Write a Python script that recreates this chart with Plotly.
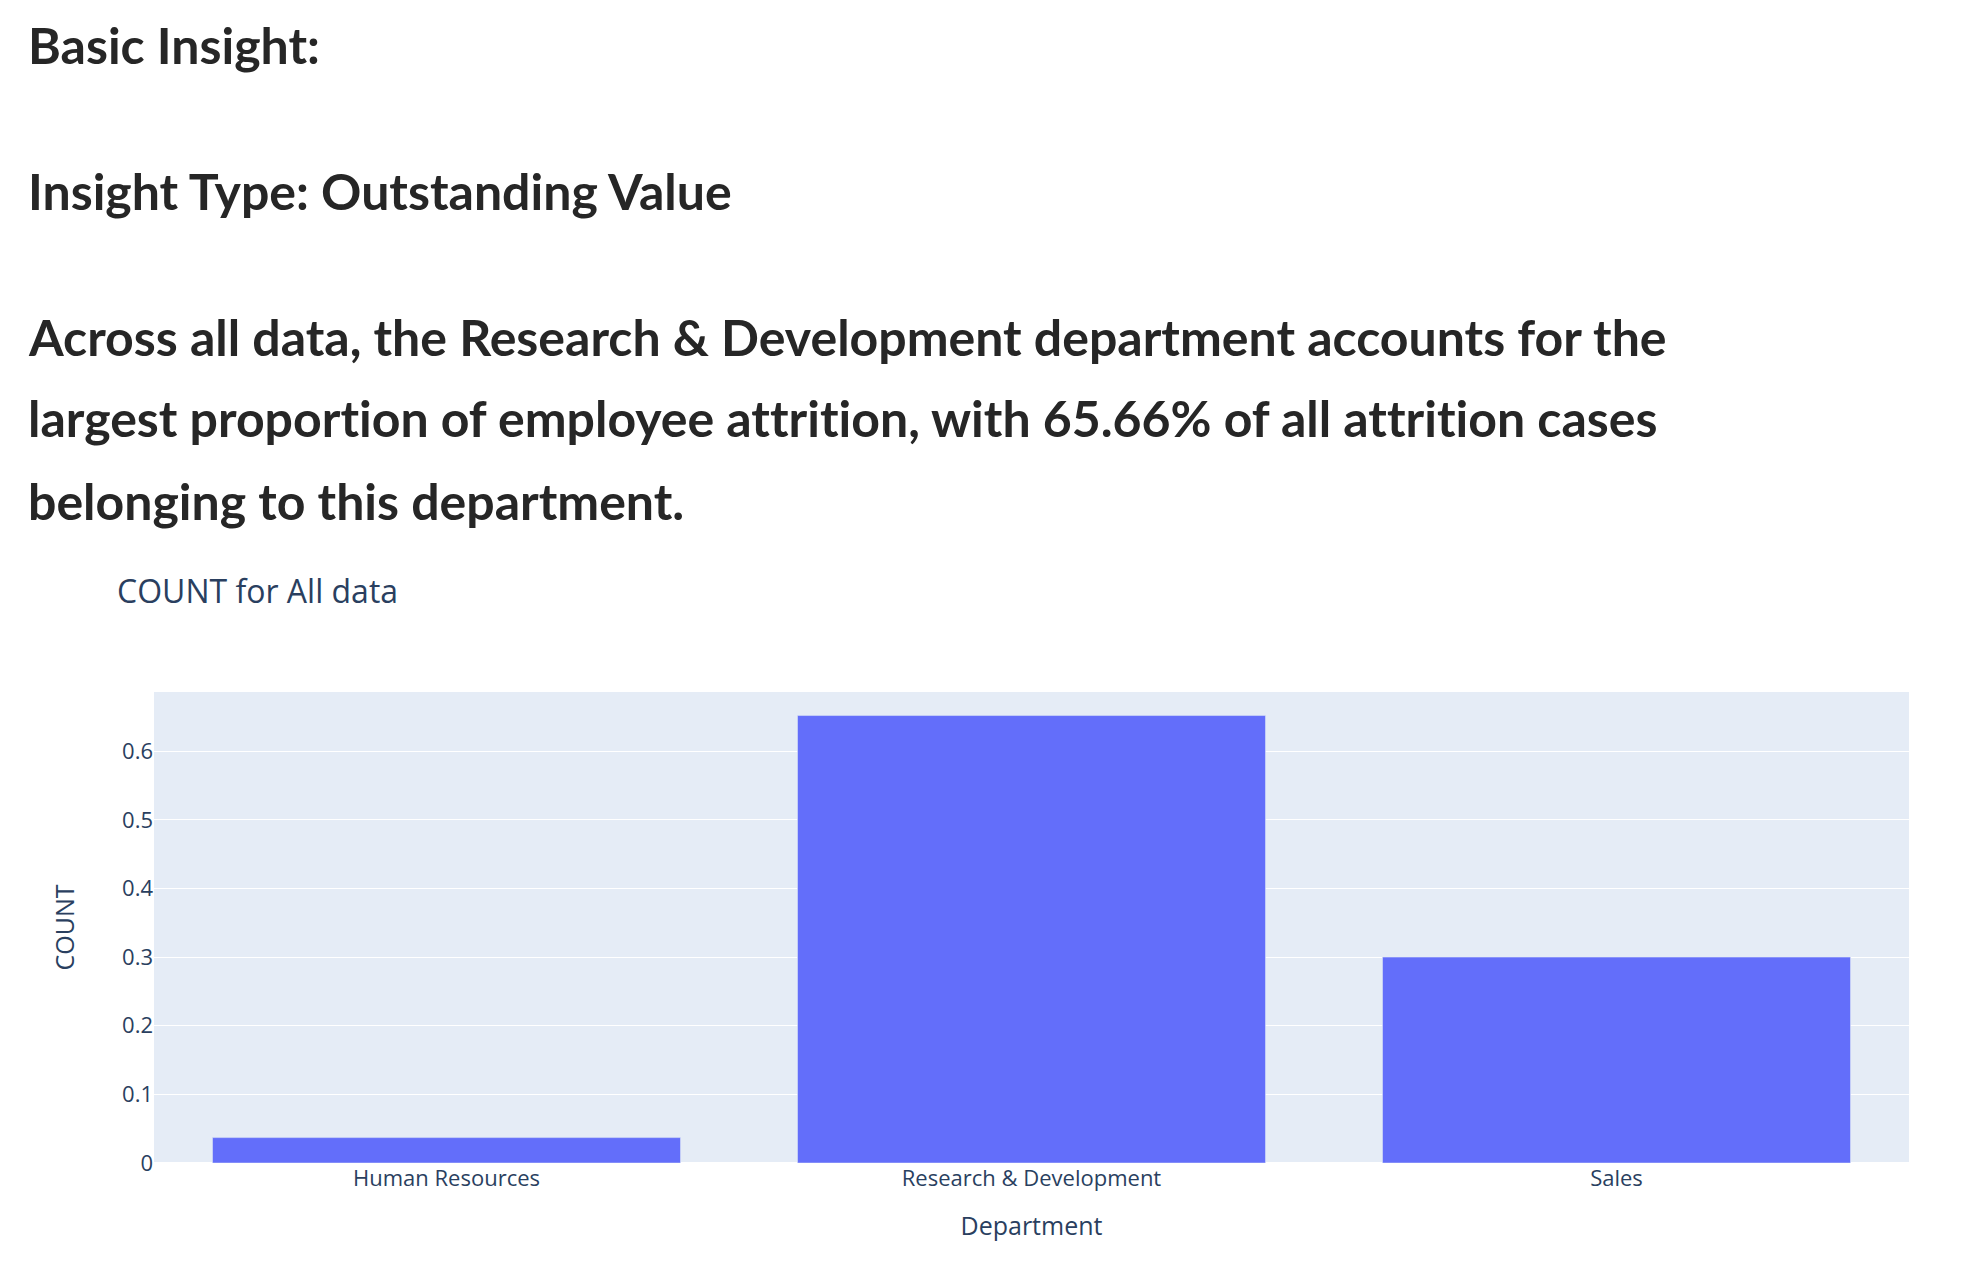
import plotly.graph_objects as go

# attrition share per department
departments = ["Human Resources", "Research & Development", "Sales"]
counts = [0.037, 0.652, 0.300]

header_lines = [
    "Basic Insight:",
    "Insight Type: Outstanding Value",
    "Across all data, the Research & Development department accounts for the",
    "largest proportion of employee attrition, with 65.66% of all attrition cases",
    "belonging to this department.",
]
# vertical centre of each header line, in pixels from the top of the figure
header_y_px = [37, 183, 329, 410, 493]

# page body adds an 8px margin, so the figure is a little smaller than the window
W, H = 1954, 1258
L, R, T, B = 146, 53, 684, 103

fig = go.Figure()
fig.add_trace(
    go.Bar(
        x=departments,
        y=counts,
        marker=dict(color="#636efa"),
        name="COUNT",
    )
)

plot_w = W - L - R
plot_h = H - T - B
for text, ypx in zip(header_lines, header_y_px):
    fig.add_annotation(
        # no "ti" ligature in the reference
        text=f'<span style="font-variant-ligatures:none;font-feature-settings:\'liga\' 0">{text}</span>',
        xref="paper", yref="paper",
        x=(18 - L) / plot_w,
        y=(H - B - ypx) / plot_h,
        xanchor="left", yanchor="middle",
        showarrow=False,
        font=dict(family="Lato", size=50, color="#262626", weight="bold"),
    )

fig.update_layout(
    template="plotly",
    width=W,
    height=H,
    margin=dict(l=L, r=R, t=T, b=B),
    font=dict(family="Open Sans, verdana, arial, sans-serif", size=22, color="#2a3f5f"),
    title=dict(
        text="COUNT for All data",
        font=dict(size=32),
        xref="container", yref="container",
        x=109 / W, xanchor="left",
        y=1 - 584 / H, yanchor="middle",
    ),
    showlegend=False,
)
fig.update_xaxes(title_text="Department", title_font=dict(size=25), title_standoff=26)
fig.update_yaxes(title_text="COUNT", title_font=dict(size=25), title_standoff=40)

fig.write_html("out.html")
